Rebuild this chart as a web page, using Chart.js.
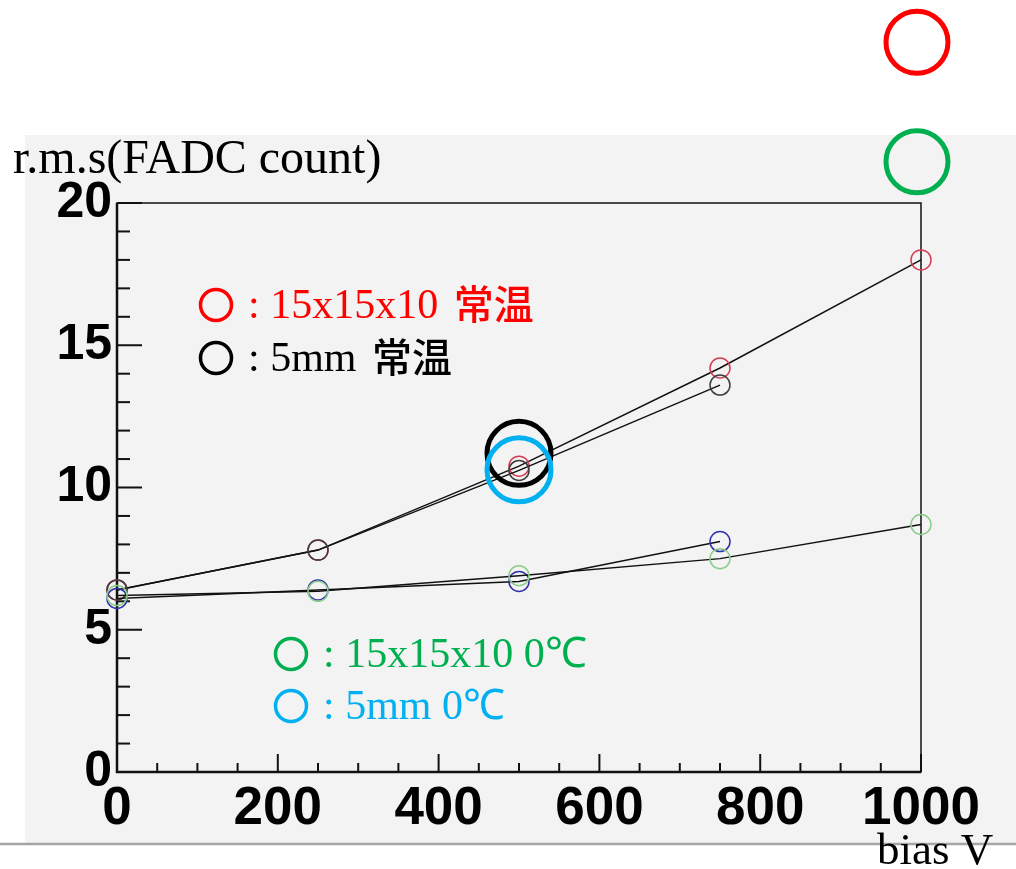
<!DOCTYPE html>
<html>
<head>
<meta charset="utf-8">
<script src="https://cdn.jsdelivr.net/npm/chart.js@4.4.1/dist/chart.umd.min.js"></script>
<style>
  html, body { margin: 0; padding: 0; background: #fff; }
  canvas { display: block; }
</style>
</head>
<body>
<canvas id="rmsChart" width="1016" height="869"></canvas>
<script>
// bias voltage (V)
const biasV = [0, 250, 500, 750, 1000];
// r.m.s (FADC count)
const rms15Room = [6.4, 7.8, 10.75, 14.2, 18.0];   // 15x15x10 常温
const rms5Room  = [6.4, 7.8, 10.6, 13.6];          // 5mm 常温
const rms15Cold = [6.2, 6.35, 6.9, 7.5, 8.7];      // 15x15x10 0℃
const rms5Cold  = [6.1, 6.4, 6.7, 8.1];            // 5mm 0℃

const xTickValues = [0, 200, 400, 600, 800, 1000];
const yTickValues = [0, 5, 10, 15, 20];

const yTitle = 'r.m.s(FADC count)';
const xTitle = 'bias V';

const legendRows = [
  { text: ': 15x15x10 ', tag: '常温', color: '#ff0000' },
  { text: ': 5mm ', tag: '常温', color: '#000000' },
  { text: ': 15x15x10 0℃', tag: '', color: '#00b050' },
  { text: ': 5mm 0℃', tag: '', color: '#00b0f0' }
];

const serif = "'Liberation Serif', 'Times New Roman', serif";
const cjk = "'Noto Sans CJK JP', 'Noto Sans CJK SC', sans-serif";

function pts(ys) {
  return ys.map((y, i) => ({ x: biasV[i], y: y }));
}

function series(label, ys, color) {
  return {
    label: label,
    data: pts(ys),
    showLine: true,
    borderColor: '#111',
    borderWidth: 1.5,
    pointRadius: 10,
    pointHoverRadius: 10,
    pointBorderWidth: 1.5,
    pointBorderColor: color,
    pointBackgroundColor: 'rgba(0,0,0,0)',
    clip: false
  };
}

const rootStyle = {
  id: 'rootStyle',
  beforeDraw(chart) {
    const c = chart.ctx;
    c.save();
    c.fillStyle = '#ffffff';
    c.fillRect(0, 0, chart.width, chart.height);
    c.fillStyle = '#f3f3f3';
    c.fillRect(25, 135, chart.width - 25, 708);
    c.strokeStyle = '#a5a5a5';
    c.lineWidth = 2.5;
    c.beginPath();
    c.moveTo(0, 844);
    c.lineTo(chart.width, 844);
    c.stroke();
    c.restore();
  },
  beforeDatasetsDraw(chart) {
    const c = chart.ctx;
    const a = chart.chartArea;
    const xs = chart.scales.x, ys = chart.scales.y;
    c.save();
    c.strokeStyle = '#111';
    c.lineWidth = 1.5;
    c.strokeRect(a.left, a.top, a.right - a.left, a.bottom - a.top);
    c.lineWidth = 2.5;
    c.beginPath();
    c.moveTo(a.left, a.top);
    c.lineTo(a.left, a.bottom);
    c.lineTo(a.right, a.bottom);
    c.stroke();
    // inside ticks, ROOT style
    c.lineWidth = 2;
    for (let v = 0; v <= 20; v += 1) {
      const py = ys.getPixelForValue(v);
      const len = v % 5 === 0 ? 25 : 13;
      c.beginPath();
      c.moveTo(a.left, py);
      c.lineTo(a.left + len, py);
      c.stroke();
    }
    for (let v = 0; v <= 1000; v += 50) {
      const px = xs.getPixelForValue(v);
      const len = v % 200 === 0 ? 18 : 9;
      c.beginPath();
      c.moveTo(px, a.bottom);
      c.lineTo(px, a.bottom - len);
      c.stroke();
    }
    c.restore();
  },
  afterDraw(chart) {
    const c = chart.ctx;
    const xs = chart.scales.x, ys = chart.scales.y;
    c.save();
    c.fillStyle = '#000';
    c.textBaseline = 'alphabetic';
    c.font = '48px ' + serif;
    c.fillText(yTitle, 13, 173);
    c.font = '45px ' + serif;
    c.fillText(xTitle, 877, 864);

    // legend rows
    const rowPos = [
      { x: 216, y: 318 }, { x: 216, y: 371 },
      { x: 291, y: 667 }, { x: 291, y: 719 }
    ];
    legendRows.forEach((r, i) => {
      const p = rowPos[i];
      c.strokeStyle = r.color;
      c.fillStyle = r.color;
      c.lineWidth = 3.5;
      c.beginPath();
      c.arc(p.x, p.y - 13, 15.5, 0, Math.PI * 2);
      c.stroke();
      c.font = '42px ' + serif;
      c.fillText(r.text, p.x + 32, p.y);
      if (r.tag) {
        const w = c.measureText(r.text).width;
        c.font = '500 40px ' + cjk;
        c.fillText(r.tag, p.x + 32 + w + 5, p.y + 1);
      }
    });

    // highlight rings around the 500 V points
    c.lineWidth = 5;
    c.strokeStyle = '#000';
    c.beginPath();
    c.arc(xs.getPixelForValue(500), ys.getPixelForValue(11.2), 32, 0, Math.PI * 2);
    c.stroke();
    c.strokeStyle = '#00b0f0';
    c.beginPath();
    c.arc(xs.getPixelForValue(500), ys.getPixelForValue(10.62), 32, 0, Math.PI * 2);
    c.stroke();

    // rings top right
    c.strokeStyle = '#ff0000';
    c.beginPath();
    c.arc(xs.getPixelForValue(995), ys.getPixelForValue(25.65), 31, 0, Math.PI * 2);
    c.stroke();
    c.strokeStyle = '#00b050';
    c.beginPath();
    c.arc(xs.getPixelForValue(995), ys.getPixelForValue(21.45), 31, 0, Math.PI * 2);
    c.stroke();
    c.restore();
  }
};

new Chart(document.getElementById('rmsChart'), {
  type: 'scatter',
  data: {
    datasets: [
      series('15x15x10 0℃', rms15Cold, 'rgb(140,205,140)'),
      series('5mm 0℃', rms5Cold, 'rgb(50,50,170)'),
      series('5mm 常温', rms5Room, 'rgb(60,60,60)'),
      series('15x15x10 常温', rms15Room, 'rgb(215,60,85)')
    ]
  },
  options: {
    responsive: false,
    animation: false,
    events: [],
    layout: { padding: { left: 0, top: 203, right: 95, bottom: 0 } },
    plugins: {
      legend: { display: false },
      tooltip: { enabled: false }
    },
    scales: {
      x: {
        type: 'linear',
        min: 0,
        max: 1000,
        afterFit(scale) { scale.height = 97; },
        afterBuildTicks(scale) { scale.ticks = xTickValues.map(v => ({ value: v })); },
        grid: { display: false, drawTicks: false },
        border: { display: false },
        ticks: {
          padding: 6,
          color: '#000',
          maxRotation: 0,
          autoSkip: false,
          callback: (v) => String(v),
          font: { family: "'Liberation Sans', Arial, sans-serif", weight: 'bold', size: 53 }
        }
      },
      y: {
        type: 'linear',
        min: 0,
        max: 20,
        afterFit(scale) { scale.width = 117; },
        afterBuildTicks(scale) { scale.ticks = yTickValues.map(v => ({ value: v })); },
        grid: { display: false, drawTicks: false },
        border: { display: false },
        ticks: {
          padding: 5,
          color: '#000',
          callback: (v) => String(v),
          font: { family: "'Liberation Sans', Arial, sans-serif", weight: 'bold', size: 50 }
        }
      }
    }
  },
  plugins: [rootStyle]
});
</script>
</body>
</html>
